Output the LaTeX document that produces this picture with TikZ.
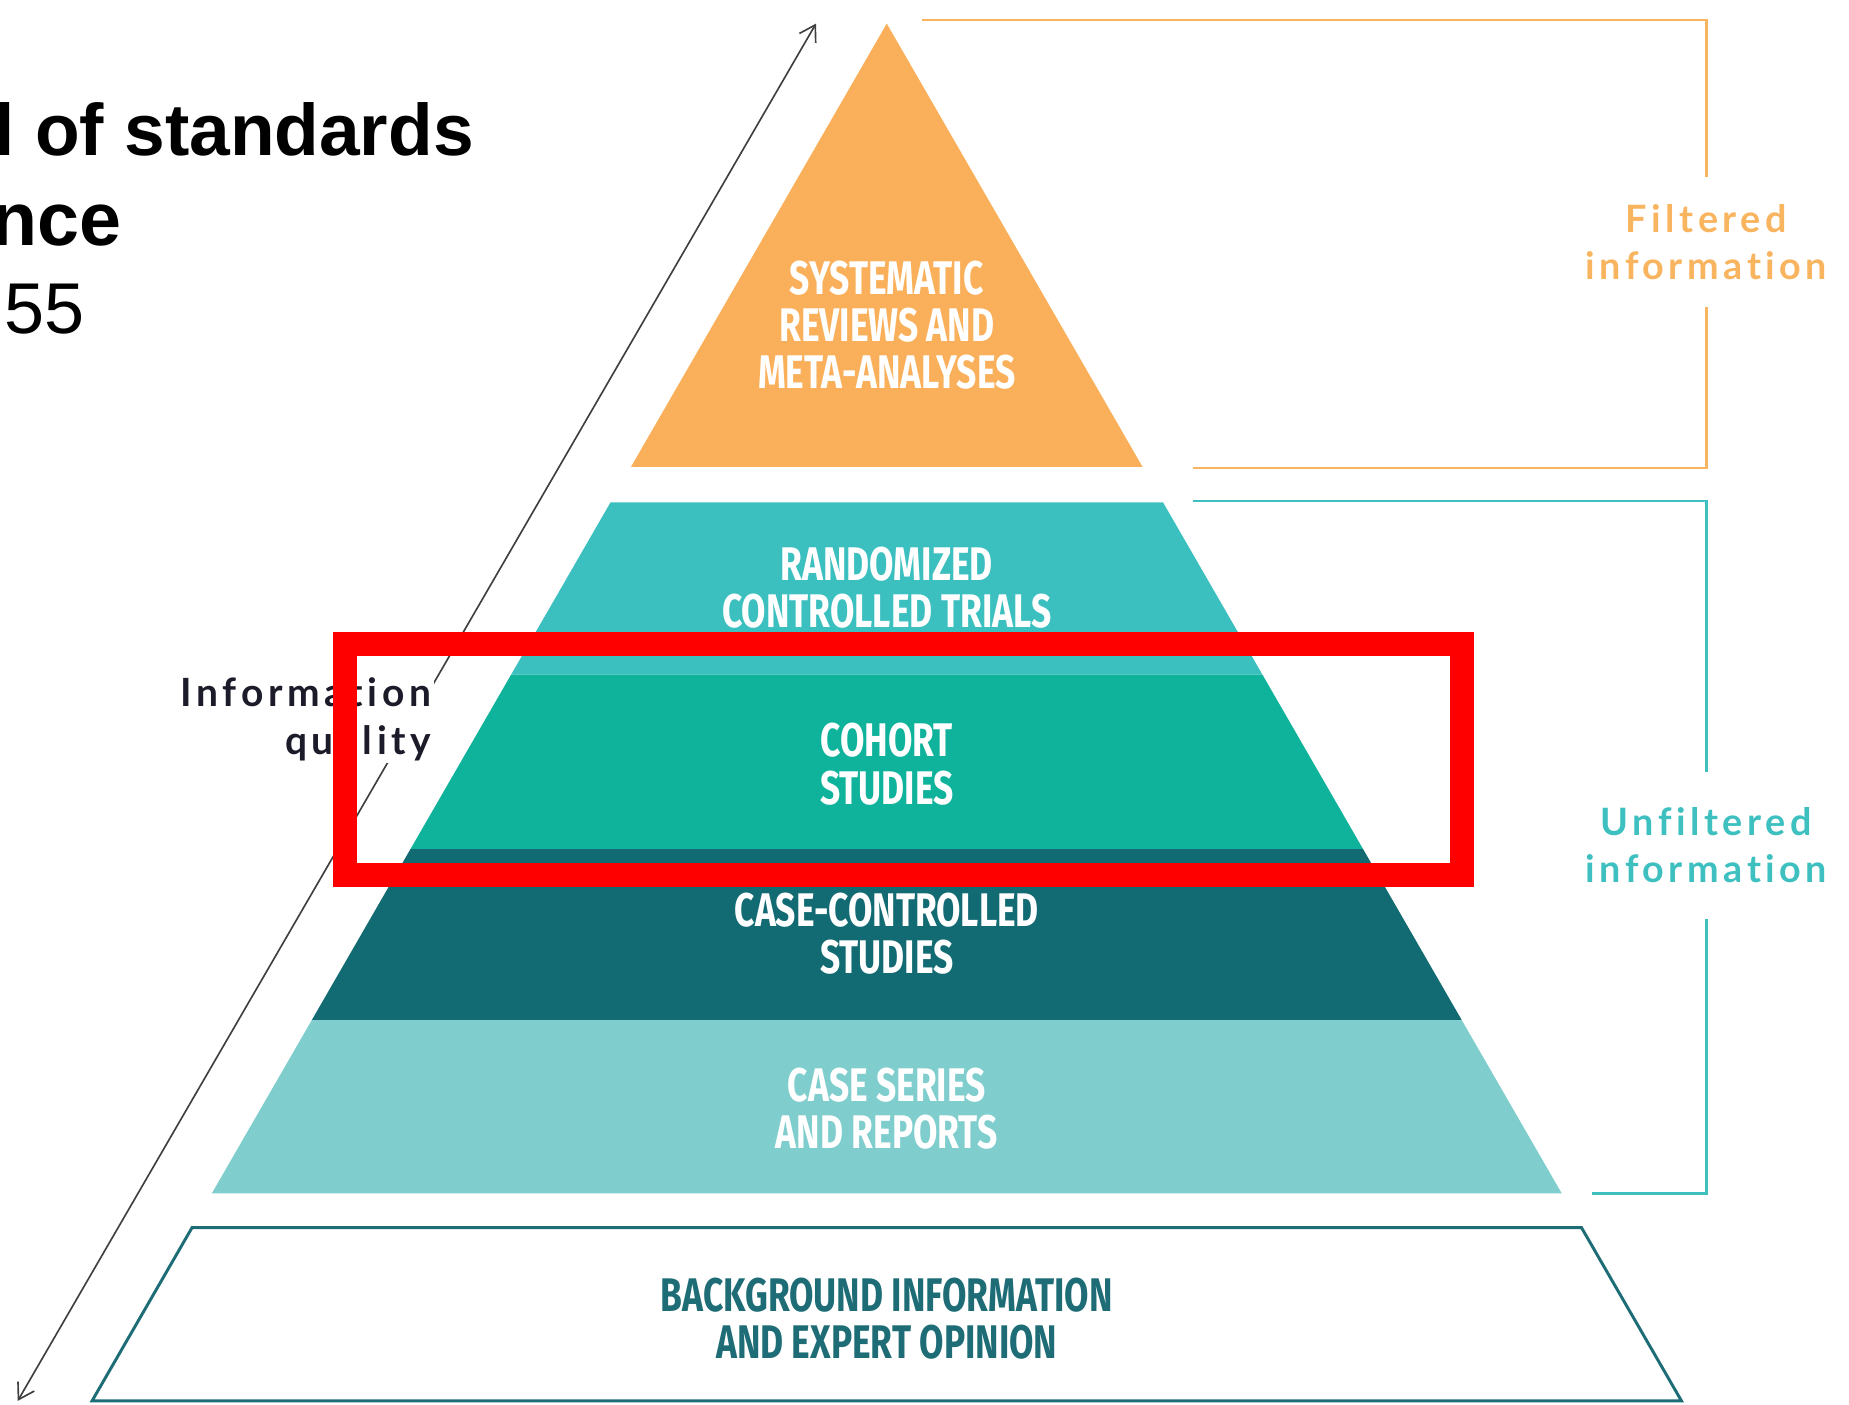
\documentclass[tikz,border=0pt]{standalone}
\usepackage{fontspec}
\setmainfont{Liberation Sans}
\newfontfamily\bandfont[FakeStretch=0.75]{Fira Sans}
\newfontfamily\sidefont[LetterSpace=12,Ligatures=NoCommon]{Lato}
\usetikzlibrary{arrows.meta}

\definecolor{sysorange}{HTML}{FAB05A}
\definecolor{rctteal}{HTML}{3BBFBF}
\definecolor{cohortgreen}{HTML}{0FB29A}
\definecolor{ccteal}{HTML}{126A72}
\definecolor{csteal}{HTML}{7FCDCD}
\definecolor{bgteal}{HTML}{1D6C76}
\definecolor{brorange}{HTML}{F9B460}
\definecolor{brteal}{HTML}{3EC0C0}
\definecolor{infonavy}{HTML}{1B1B2A}

% one slice of the pyramid between two heights
\newcommand\pyrband[3]{%
  \path[#3] ({752-0.577*(#1-20)},#1) -- ({752+0.577*(#1-20)},#1)
     -- ({752+0.577*(#2-20)},#2) -- ({752-0.577*(#2-20)},#2) -- cycle;}

\begin{document}
\begin{tikzpicture}[x=1pt,y=-1pt,
    bandtxt/.style={font=\bandfont\bfseries\fontsize{40}{40}\selectfont,text=white,align=center,inner sep=0pt},
    sidelab/.style={font=\sidefont\bfseries\fontsize{32}{40}\selectfont,align=center,inner sep=0pt},
    brk/.style={line width=2pt},
    qarrow/.style={<->,>={Straight Barb[length=13pt,width=16pt]},line width=1.4pt,draw=black!75}]
            \useasboundingbox (0,0) rectangle (1568,1191);
            % title fragments
            \node[anchor=base east,inner sep=0pt,font=\bfseries\fontsize{62}{76}\selectfont] (ttla) at (402,131.5) {l of standards};
            \node[anchor=base east,inner sep=0pt,font=\bfseries\fontsize{64}{76}\selectfont] (ttlb) at (103,208) {nce};
            \node[anchor=base west,inner sep=0pt,font=\fontsize{61}{72}\selectfont] (ttlc) at (4,282.5) {55};
            % pyramid
            \foreach \ya/\yb/\col in {20/396/sysorange,426/572/rctteal,572/720/cohortgreen,720/865/ccteal,865/1012/csteal}
              \pyrband{\ya}{\yb}{fill=\col};
            \pyrband{1041}{1188}{draw=bgteal,line width=2.5pt,line join=miter}
            \node[bandtxt] (sysrev) at (752,276) {SYSTEMATIC\\REVIEWS AND\\META-ANALYSES};
            \node[bandtxt] (rct) at (752,498) {RANDOMIZED\\CONTROLLED TRIALS};
            \node[bandtxt] (cohort) at (752,648) {COHORT\\STUDIES};
            \node[bandtxt] (casectrl) at (752,792) {CASE-CONTROLLED\\STUDIES};
            \node[bandtxt] (caseser) at (752,940) {CASE SERIES\\AND REPORTS};
            \node[bandtxt,text=bgteal] (backgr) at (752,1118) {BACKGROUND INFORMATION\\AND EXPERT OPINION};
            % brackets
            \node[sidelab,text=brorange,minimum height=110pt] (filt) at (1447,205) {Filtered\\information};
            \node[sidelab,text=brteal,minimum height=125pt] (unfilt) at (1447,717) {Unfiltered\\information};
            \coordinate (fa) at (782,17);
            \coordinate (fb) at (1012,397);
            \coordinate (ua) at (1012,425);
            \coordinate (ub) at (1350,1012);
            \draw[brk,brorange] (fa) -| (filt.north);
            \draw[brk,brorange] (filt.south) |- (fb);
            \draw[brk,brteal] (ua) -| (unfilt.north);
            \draw[brk,brteal] (unfilt.south) |- (ub);
            % quality axis
            \coordinate (qtop) at (692,20);
            \coordinate (qbot) at (15,1188);
            \draw[qarrow] (qbot) -- (qtop);
            \node[sidelab,text=infonavy,align=right,fill=white,inner sep=2pt,anchor=east,font=\sidefont\bfseries\fontsize{33}{40}\selectfont] (quality) at (368,610) {Information\\quality};
            %\node at (752,20) {apex};
            \draw[red,line width=20pt] (292.5,546) rectangle (1240,742);
\end{tikzpicture}
\end{document}
